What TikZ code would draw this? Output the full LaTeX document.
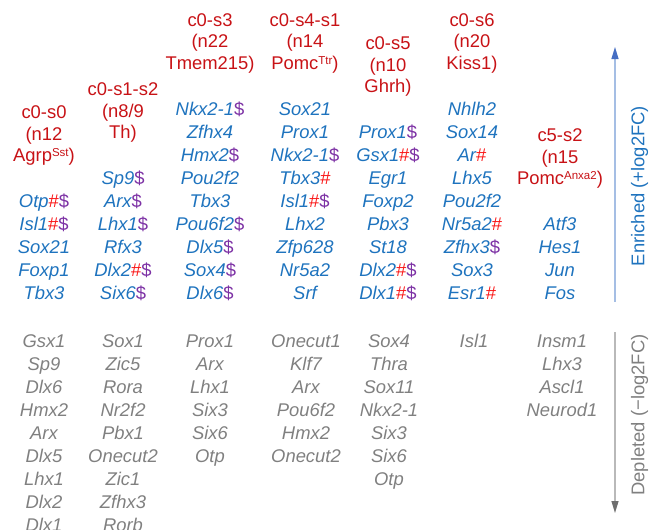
\documentclass[tikz,border=0pt]{standalone}
\usepackage{fontspec}
\setmainfont{Liberation Sans}
\usetikzlibrary{arrows.meta}
\definecolor{titlered}{RGB}{200,18,22}
\definecolor{genblue}{RGB}{30,115,190}
\definecolor{hashred}{RGB}{250,20,20}
\definecolor{dollpurple}{RGB}{125,50,165}
\definecolor{depgray}{RGB}{128,128,128}
\definecolor{enrline}{RGB}{165,190,228}
\definecolor{enrtip}{RGB}{70,110,195}
\definecolor{depline}{RGB}{185,185,185}
\definecolor{deptip}{RGB}{110,110,110}
\newcommand\Hs{{\upshape\color{hashred}\#}}
\newcommand\Ds{{\upshape\color{dollpurple}\$}}
\newcommand\Sup[1]{\raisebox{5.5pt}{\fontsize{11.5}{12}\selectfont #1}}
\begin{document}
\begin{tikzpicture}[x=1pt,y=-1pt,
  every node/.style={inner sep=0pt,outer sep=0pt,anchor=base},
  titletext/.style={text=titlered,font=\fontsize{18.4}{21.5}\selectfont},
  gene/.style={text=genblue,font=\fontsize{18.4}{21.5}\selectfont\itshape},
  depgene/.style={text=depgray,font=\fontsize{18.4}{21.5}\selectfont\itshape},
  axislabel/.style={font=\fontsize{18.4}{21.5}\selectfont,rotate=90},
  enrarrow/.style={draw=enrline,line width=1.2pt,-{Triangle[length=12pt,width=7pt,color=enrtip]}},
  deparrow/.style={draw=depline,line width=1.2pt,-{Triangle[length=12pt,width=7pt,color=deptip]}}]
\useasboundingbox (0,0) rectangle (649,530);
\clip (0,0) rectangle (649,530);
% ---- titles ----
\node[titletext] (t0a) at (44,118.5) {c0-s0};
\node[titletext] (t0b) at (44,140) {(n12};
\node[titletext] (t0c) at (44,161.5) {Agrp\Sup{Sst})};
\node[titletext] (t1a) at (123,95.5) {c0-s1-s2};
\node[titletext] (t1b) at (123,117) {(n8/9};
\node[titletext] (t1c) at (123,138.5) {Th)};
\node[titletext] (t2a) at (210,26.5) {c0-s3};
\node[titletext] (t2b) at (210,48) {(n22};
\node[titletext] (t2c) at (210,69.5) {Tmem215)};
\node[titletext] (t3a) at (305,26.5) {c0-s4-s1};
\node[titletext] (t3b) at (305,48) {(n14};
\node[titletext] (t3c) at (305,69.5) {Pomc\Sup{Ttr})};
\node[titletext] (t4a) at (388,49.5) {c0-s5};
\node[titletext] (t4b) at (388,71) {(n10};
\node[titletext] (t4c) at (388,92.5) {Ghrh)};
\node[titletext] (t5a) at (472,26.5) {c0-s6};
\node[titletext] (t5b) at (472,48) {(n20};
\node[titletext] (t5c) at (472,69.5) {Kiss1)};
\node[titletext] (t6a) at (560,141.5) {c5-s2};
\node[titletext] (t6b) at (560,163) {(n15};
\node[titletext] (t6c) at (560,184.5) {Pomc\Sup{Anxa2})};
% ---- enriched genes ----
\foreach \g [count=\i from 0] in {Otp\Hs\Ds,Isl1\Hs\Ds,Sox21,Foxp1,Tbx3}
  \node[gene] (e0-\i) at (44,{115+23*(4+\i)}) {\g};
\foreach \g [count=\i from 0] in {Sp9\Ds,Arx\Ds,Lhx1\Ds,Rfx3,Dlx2\Hs\Ds,Six6\Ds}
  \node[gene] (e1-\i) at (123,{115+23*(3+\i)}) {\g};
\foreach \g [count=\i from 0] in {Nkx2-1\Ds,Zfhx4,Hmx2\Ds,Pou2f2,Tbx3,Pou6f2\Ds,Dlx5\Ds,Sox4\Ds,Dlx6\Ds}
  \node[gene] (e2-\i) at (210,{115+23*\i}) {\g};
\foreach \g [count=\i from 0] in {Sox21,Prox1,Nkx2-1\Ds,Tbx3\Hs,Isl1\Hs\Ds,Lhx2,Zfp628,Nr5a2,Srf}
  \node[gene] (e3-\i) at (305,{115+23*\i}) {\g};
\foreach \g [count=\i from 0] in {Prox1\Ds,Gsx1\Hs\Ds,Egr1,Foxp2,Pbx3,St18,Dlx2\Hs\Ds,Dlx1\Hs\Ds}
  \node[gene] (e4-\i) at (388,{115+23*(1+\i)}) {\g};
\foreach \g [count=\i from 0] in {Nhlh2,Sox14,Ar\Hs,Lhx5,Pou2f2,Nr5a2\Hs,Zfhx3\Ds,Sox3,Esr1\Hs}
  \node[gene] (e5-\i) at (472,{115+23*\i}) {\g};
\foreach \g [count=\i from 0] in {Atf3,Hes1,Jun,Fos}
  \node[gene] (e6-\i) at (560,{115+23*(5+\i)}) {\g};
% ---- depleted genes ----
\foreach \g [count=\i from 0] in {Gsx1,Sp9,Dlx6,Hmx2,Arx,Dlx5,Lhx1,Dlx2,Dlx1}
  \node[depgene] (d0-\i) at (44,{347+23*\i}) {\g};
\foreach \g [count=\i from 0] in {Sox1,Zic5,Rora,Nr2f2,Pbx1,Onecut2,Zic1,Zfhx3,Rorb}
  \node[depgene] (d1-\i) at (123,{347+23*\i}) {\g};
\foreach \g [count=\i from 0] in {Prox1,Arx,Lhx1,Six3,Six6,Otp}
  \node[depgene] (d2-\i) at (210,{347+23*\i}) {\g};
\foreach \g [count=\i from 0] in {Onecut1,Klf7,Arx,Pou6f2,Hmx2,Onecut2}
  \node[depgene] (d3-\i) at (306,{347+23*\i}) {\g};
\foreach \g [count=\i from 0] in {Sox4,Thra,Sox11,Nkx2-1,Six3,Six6,Otp}
  \node[depgene] (d4-\i) at (389,{347+23*\i}) {\g};
\foreach \g [count=\i from 0] in {Isl1}
  \node[depgene] (d5-\i) at (474,{347+23*\i}) {\g};
\foreach \g [count=\i from 0] in {Insm1,Lhx3,Ascl1,Neurod1}
  \node[depgene] (d6-\i) at (562,{347+23*\i}) {\g};
% ---- axis arrows ----
\coordinate (enrS) at (615,302);
\coordinate (enrE) at (615,47);
\coordinate (depS) at (615,332);
\coordinate (depE) at (615,513);
\draw[enrarrow] (enrS) -- (enrE);
\draw[deparrow] (depS) -- (depE);
\node[axislabel,text=genblue] (enrlab) at (644.3,186) {Enriched (+log2FC)};
\node[axislabel,text=depgray] (deplab) at (644.3,415) {Depleted (\textminus log2FC)};
\end{tikzpicture}
\end{document}
